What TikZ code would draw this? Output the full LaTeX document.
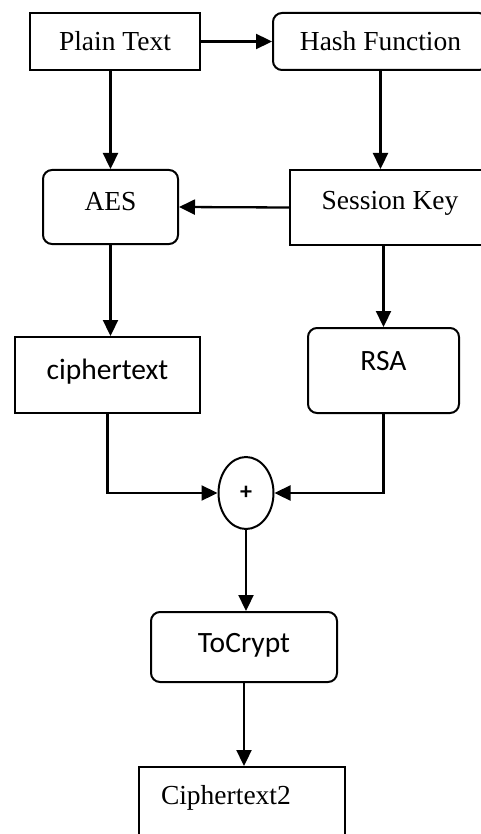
\documentclass[tikz,border=0pt]{standalone}
\usepackage{fontspec}
\setmainfont{Liberation Serif}
\newfontfamily\calibrifont{Carlito}
\usetikzlibrary{arrows.meta,shapes.geometric}
\begin{document}
\begin{tikzpicture}[x=1pt,y=-1pt,
    box/.style={draw,line width=2pt,inner sep=0pt,font=\fontsize{27.5}{31}\selectfont},
    rbox/.style={box,rounded corners=9pt},
    sbox/.style={font=\calibrifont\fontsize{29.5}{33}\selectfont},
    arr/.style={line width=2.3pt,-{Triangle[length=16pt,width=15pt]}}]
    \useasboundingbox (0,0) rectangle (481,834);
    \clip (0,0) rectangle (481,834);

    % top row
    \node[box,minimum width=170,minimum height=57] (plain) at (115,41.5) {Plain Text};
    \node[rbox,minimum width=215,minimum height=57] (hash) at (380.5,41.5) {Hash Function};

    % second row
    \node[rbox,minimum width=135,minimum height=74,text height=19pt,text depth=12pt] (aes) at (110.5,207) {AES};
    \node[box,minimum width=200,minimum height=75,text height=19pt,text depth=14pt] (skey) at (390,207.5) {Session Key};

    % third row
    \node[box,sbox,minimum width=185,minimum height=76,text height=19pt,text depth=10pt] (cipher) at (107.5,375) {ciphertext};
    \node[rbox,sbox,minimum width=151,minimum height=85,text height=19pt,text depth=19pt] (rsa) at (383.5,370.5) {RSA};

    \node[draw,ellipse,line width=2pt,inner sep=0pt,minimum width=55,minimum height=72,
          font=\calibrifont\bfseries\fontsize{24}{26}\selectfont] (plus) at (246,493) {+};

    \node[rbox,sbox,minimum width=186,minimum height=70,text height=19pt,text depth=8pt] (tocrypt) at (244,647) {ToCrypt};
    \node[box,minimum width=206,minimum height=83,text width=162,align=left,
          text height=19pt,text depth=28pt] (ctext2) at (242,808.5) {Ciphertext2};

    \draw[arr] (plain.east) -- (hash.west);
    \draw[arr] (aes.north |- plain.south) -- (aes.north);
    \draw[arr] (hash.south) -- (hash.south |- skey.north);
    \draw[arr] (skey.west) -- (aes.east);
    \draw[arr] (aes.south) -- (aes.south |- cipher.north);
    \draw[arr] (rsa.north |- skey.south) -- (rsa.north);
    \draw[arr] (cipher.south) |- (plus.west);
    \draw[arr] (rsa.south) |- (plus.east);
    \draw[arr] (plus.south) -- (plus.south |- tocrypt.north);
    \draw[arr] (tocrypt.south) -- (tocrypt.south |- ctext2.north);
\end{tikzpicture}
\end{document}
